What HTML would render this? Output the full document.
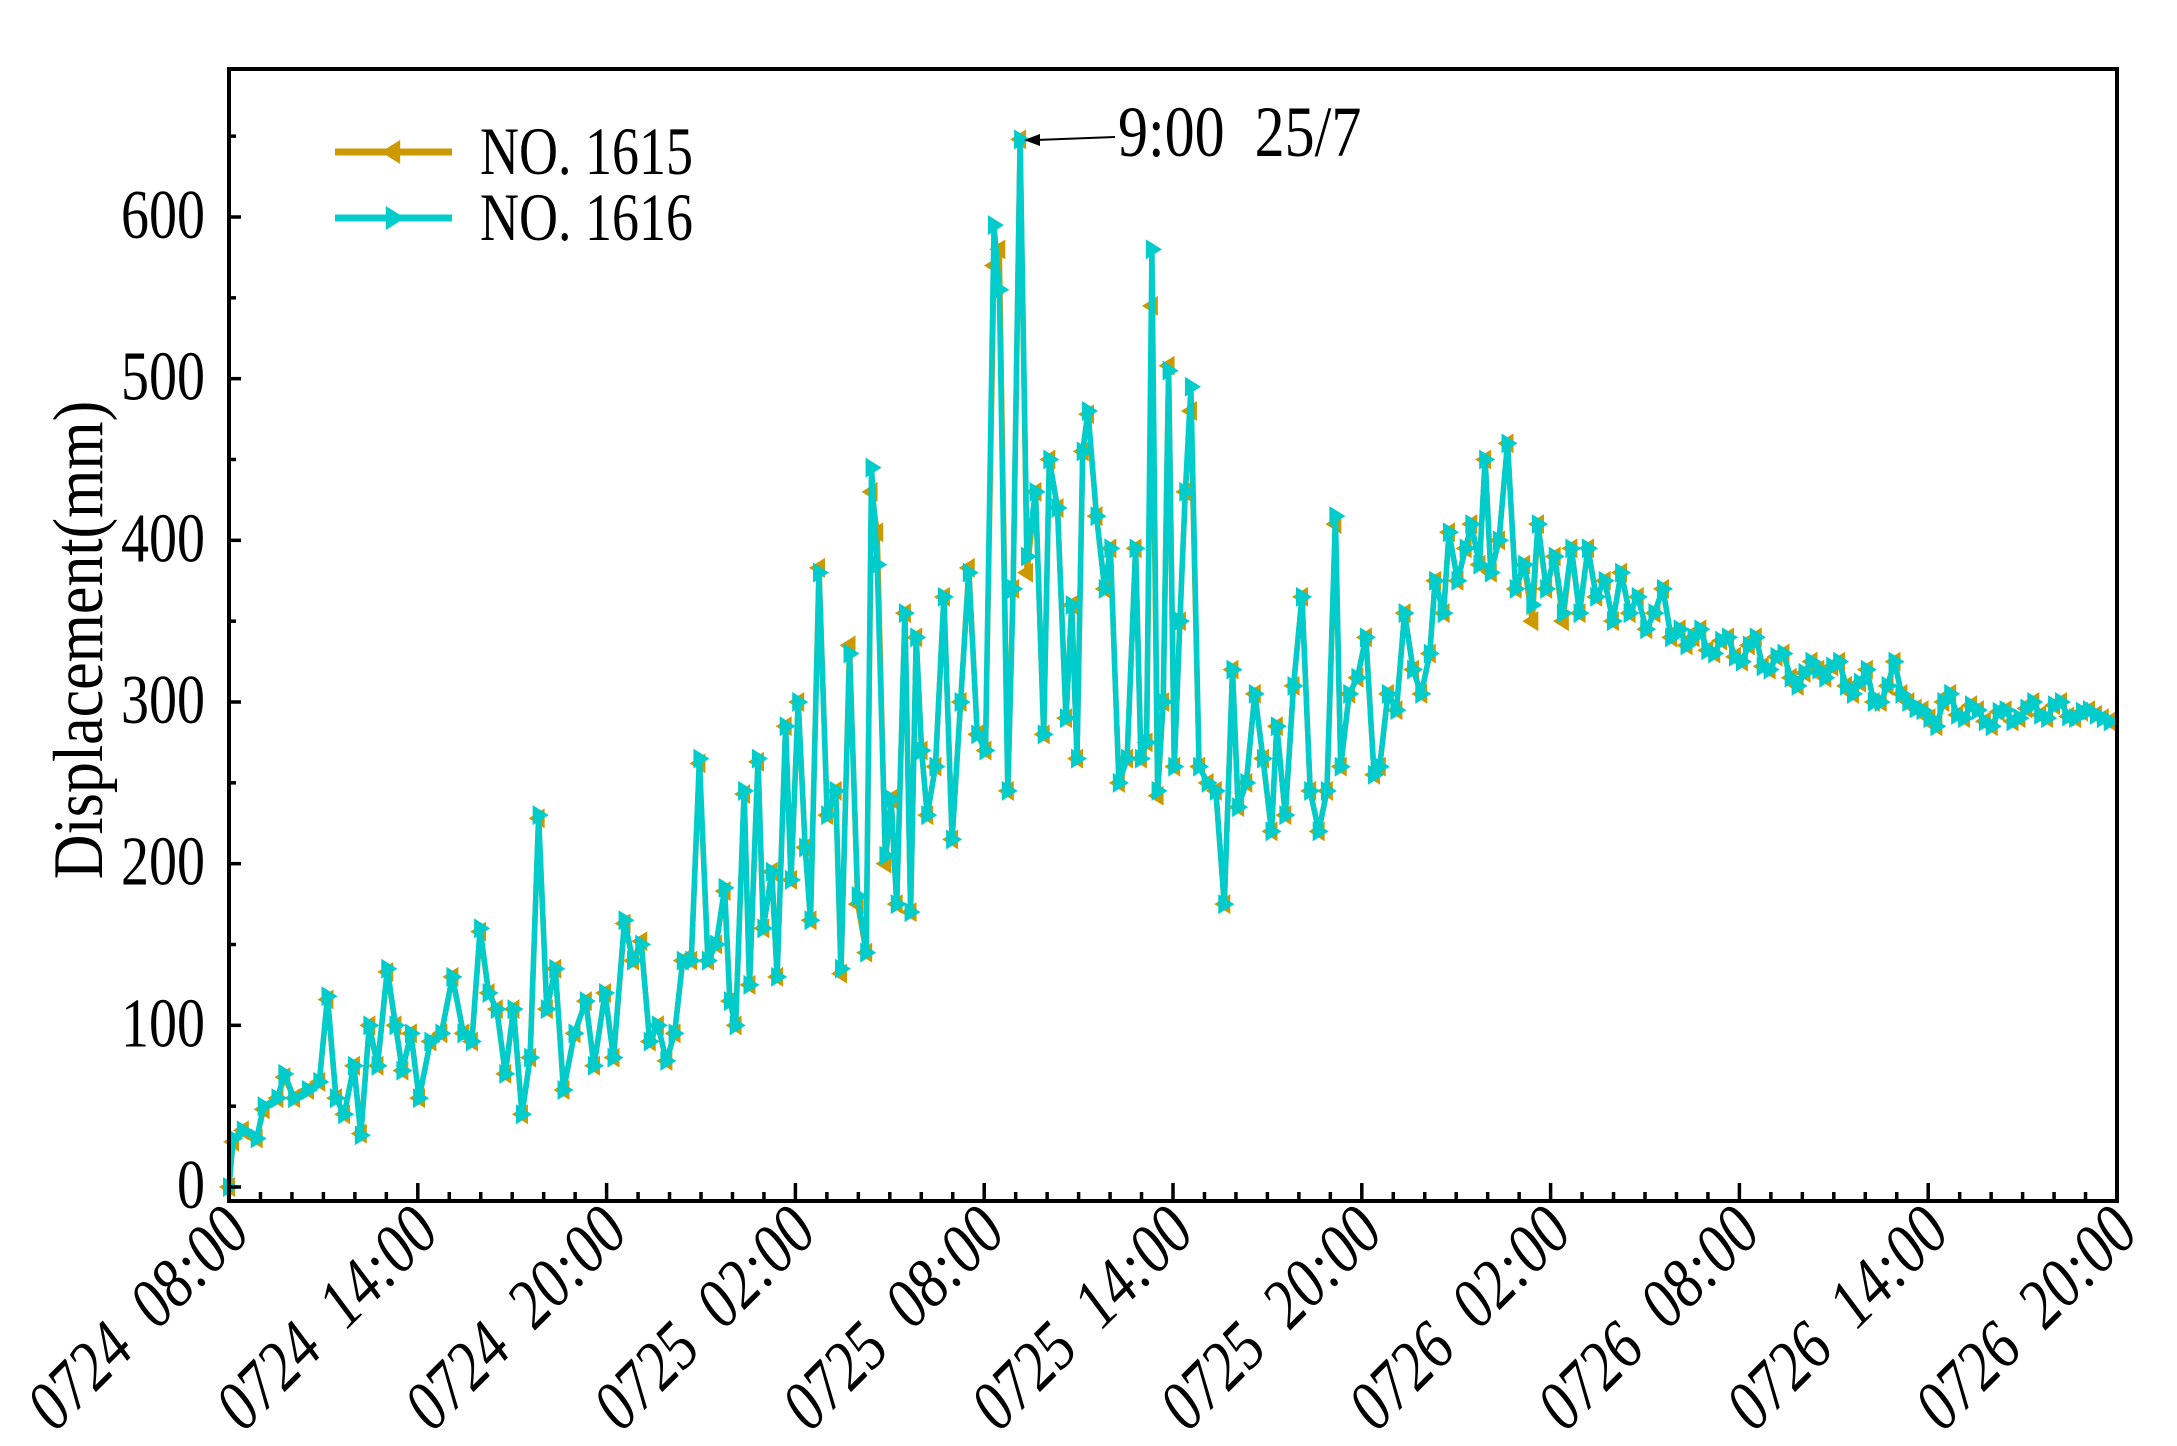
<!DOCTYPE html>
<html><head><meta charset="utf-8"><style>
html,body{margin:0;padding:0;background:#fff}
svg{display:block;font-family:"Liberation Serif",serif}
</style></head><body>
<svg id="chart" width="2177" height="1446" viewBox="0 0 2177 1446" xmlns="http://www.w3.org/2000/svg">
<rect width="2177" height="1446" fill="#fff"/>
<g id="marks"></g>
<g id="axes"></g>
</svg>
<script>
const hours=[0,0.13,0.44,0.88,1.10,1.54,1.76,2.07,2.51,2.87,3.13,3.40,3.66,3.97,4.19,4.46,4.72,5.03,5.29,5.51,5.78,6.04,6.40,6.75,7.10,7.45,7.72,7.98,8.25,8.51,8.78,9.04,9.31,9.57,9.84,10.10,10.37,10.63,10.98,11.34,11.60,11.95,12.22,12.57,12.84,13.10,13.37,13.63,13.90,14.16,14.42,14.69,14.95,15.22,15.48,15.75,15.92,16.10,16.37,16.54,16.81,16.98,17.25,17.42,17.69,17.86,18.09,18.31,18.48,18.75,19.01,19.28,19.45,19.72,19.98,20.25,20.42,20.60,20.86,21.04,21.22,21.48,21.66,21.84,22.01,22.19,22.45,22.72,22.98,23.25,23.51,23.78,24.04,24.31,24.48,24.75,24.92,25.14,25.36,25.63,25.89,26.07,26.33,26.60,26.78,26.95,27.13,27.30,27.57,27.83,28.01,28.28,28.54,28.81,28.98,29.16,29.33,29.51,29.69,29.86,30.04,30.22,30.39,30.57,30.83,31.10,31.36,31.63,31.89,32.07,32.33,32.60,32.86,33.13,33.30,33.57,33.83,34.10,34.36,34.63,34.89,35.16,35.33,35.60,35.86,36.13,36.39,36.57,36.83,37.10,37.36,37.63,37.89,38.16,38.33,38.60,38.77,39.04,39.30,39.48,39.74,39.92,40.10,40.36,40.63,40.89,41.16,41.42,41.60,41.86,42.13,42.39,42.66,42.92,43.19,43.45,43.72,43.98,44.24,44.51,44.77,45.04,45.30,45.57,45.83,46.10,46.32,46.54,46.76,46.98,47.20,47.42,47.64,47.86,48.08,48.30,48.52,48.74,48.96,49.18,49.40,49.63,49.85,50.07,50.29,50.51,50.73,50.95,51.17,51.39,51.61,51.83,52.05,52.27,52.49,52.71,52.93,53.15,53.37,53.60,53.82,54.04,54.26,54.48,54.70,54.92,55.14,55.36,55.58,55.80,56.02,56.24,56.46,56.68,56.90,57.12,57.34,57.56,57.78,58.00,58.22,58.45,58.67,58.89,59.11,59.33,59.55,59.77,60];
const no1616=[0,30,35,30,50,55,70,55,60,65,118,55,45,75,32,100,75,135,100,72,95,55,90,95,130,95,90,160,120,110,70,110,45,80,230,110,135,60,95,115,75,120,80,165,140,150,90,100,78,95,140,140,265,140,150,185,115,100,245,125,265,160,195,130,285,190,300,210,165,380,230,245,135,330,180,145,445,385,205,240,175,355,170,340,270,230,260,365,215,300,380,280,270,595,555,245,370,648,390,430,280,450,420,290,360,265,455,480,415,370,395,250,265,395,265,275,580,245,300,505,260,350,430,495,260,250,245,175,320,235,250,305,265,220,285,230,310,365,245,220,245,415,260,305,315,340,255,260,305,295,355,320,305,330,375,355,405,375,395,410,385,450,380,400,460,370,385,360,410,370,390,355,395,355,395,365,375,350,380,355,365,345,355,370,340,345,335,340,345,332,330,338,340,328,325,335,340,322,320,328,330,315,310,318,325,320,315,322,325,310,305,312,320,300,300,310,325,305,300,296,295,290,285,300,305,292,290,298,295,288,285,294,295,288,290,296,300,292,290,298,300,291,290,294,295,292,290,288];
const no1615=[0,28,35,30,48,55,68,55,60,65,116,55,45,75,33,100,75,133,100,72,95,55,90,95,130,95,90,158,120,110,70,110,45,80,228,110,135,60,95,115,75,120,80,163,140,152,90,100,78,95,140,140,262,140,150,183,115,100,243,125,263,160,195,130,285,190,300,210,165,383,230,245,132,335,175,145,430,405,200,240,175,355,170,340,270,230,260,365,215,300,383,280,270,570,580,245,370,648,380,430,280,450,420,290,360,265,455,478,415,370,395,250,265,395,265,275,545,242,300,508,260,350,430,480,260,250,245,175,320,235,250,305,265,220,285,230,310,365,245,220,245,410,260,305,315,340,255,260,305,295,355,320,305,330,375,355,405,375,395,410,385,450,380,400,460,370,385,350,410,370,390,350,395,355,395,365,375,350,380,355,365,345,355,370,340,345,335,340,345,332,330,338,340,328,325,335,340,322,320,328,330,315,310,318,325,320,315,322,325,310,305,312,320,300,300,310,325,305,300,296,295,290,285,300,305,292,290,298,295,288,285,294,295,288,290,296,300,292,290,298,300,291,290,294,295,292,290,288];
const yTicks=[0,100,200,300,400,500,600];
const xTickLabels=["0724  08:00","0724  14:00","0724  20:00","0725  02:00","0725  08:00","0725  14:00","0725  20:00","0726  02:00","0726  08:00","0726  14:00","0726  20:00"];

const L=229,R=2117,T=69,B=1201;
const X=h=>L+(R-L)*h/60;
const Y=v=>1187-v*(970/600);
const NS="http://www.w3.org/2000/svg";
const marks=document.getElementById('marks'),axes=document.getElementById('axes');
function mk(tag,attrs,parent){const e=document.createElementNS(NS,tag);for(const k in attrs)e.setAttribute(k,attrs[k]);parent.appendChild(e);return e;}
function tri(x,y,s,dir){return dir>0?`${x+s},${y} ${x-s*0.6},${y-s} ${x-s*0.6},${y+s}`:`${x-s},${y} ${x+s*0.6},${y-s} ${x+s*0.6},${y+s}`;}

function drawSeries(vals,color,dir,name){
  const g=mk('g',{},marks);
  
  
  const pts=vals.map((v,i)=>X(hours[i]).toFixed(1)+','+Y(v).toFixed(1)).join(' ');
  const pl=mk('polyline',{points:pts,fill:'none',stroke:color,'stroke-width':5.5,'stroke-linejoin':'round'},g);
  
  
  vals.forEach((v,i)=>{
    const m=mk('polygon',{points:tri(X(hours[i]),Y(v),10,dir),fill:color},g);
    
    
  });
}
drawSeries(no1615,'#CC9900',-1,'series-no1615');
drawSeries(no1616,'#00CCCC',1,'series-no1616');

const fr=mk('rect',{x:L,y:T,width:R-L,height:B-T,fill:'none',stroke:'#000','stroke-width':4},axes);


for(let v=0;v<=650;v+=50){
  const major=v%100===0;
  mk('line',{x1:L,x2:L+(major?12:7),y1:Y(v),y2:Y(v),stroke:'#000','stroke-width':3.5},axes);
}
yTicks.forEach(v=>{
  const x=L-24,y=Y(v)+21;
  const t=mk('text',{x:0,y:0,'text-anchor':'end','font-size':56,transform:`translate(${x} ${y}) scale(1 1.25)`},axes);
  t.textContent=v;
  
  
});
for(let h=0;h<=60;h++){
  const major=h%6===0;
  mk('line',{x1:X(h),x2:X(h),y1:B,y2:B-(major?18:9),stroke:'#000','stroke-width':3.5},axes);
}
xTickLabels.forEach((s,i)=>{
  const x=X(i*6)+24,y=B+34;
  const t=mk('text',{x:0,y:0,'text-anchor':'end','font-size':58,'font-style':'italic','xml:space':'preserve',transform:`translate(${x} ${y}) rotate(-45) scale(1 1.2)`},axes);
  t.setAttributeNS('http://www.w3.org/XML/1998/namespace','xml:space','preserve');
  t.textContent=s;
  
  
});
const yl=mk('text',{x:0,y:0,'text-anchor':'middle','font-size':62,transform:'translate(102 640) rotate(-90) scale(1 1.15)'},axes);
yl.textContent='Displacement(mm)';



[['NO. 1615','#CC9900',-1,152],['NO. 1616','#00CCCC',1,218]].forEach(([lab,c,d,y])=>{
  const g=mk('g',{},axes);
  
  
  mk('line',{x1:335,x2:452,y1:y,y2:y,stroke:c,'stroke-width':7},g);
  mk('polygon',{points:tri(393,y,12,d),fill:c},g);
  const t=mk('text',{x:0,y:0,'font-size':54,transform:`translate(480 ${y+22}) scale(1 1.25)`},g);
  t.textContent=lab;
});
const ag=mk('g',{},axes);


mk('line',{x1:1115,y1:137,x2:1036,y2:140,stroke:'#000','stroke-width':2},ag);
mk('polygon',{points:'1024,140 1040,134 1040,146',fill:'#000'},ag);
const at=mk('text',{x:0,y:0,'font-size':60,'xml:space':'preserve',transform:'translate(1118 156) scale(1 1.2)'},ag);
at.setAttributeNS('http://www.w3.org/XML/1998/namespace','xml:space','preserve');
at.textContent='9:00  25/7';
</script>
</body></html>
